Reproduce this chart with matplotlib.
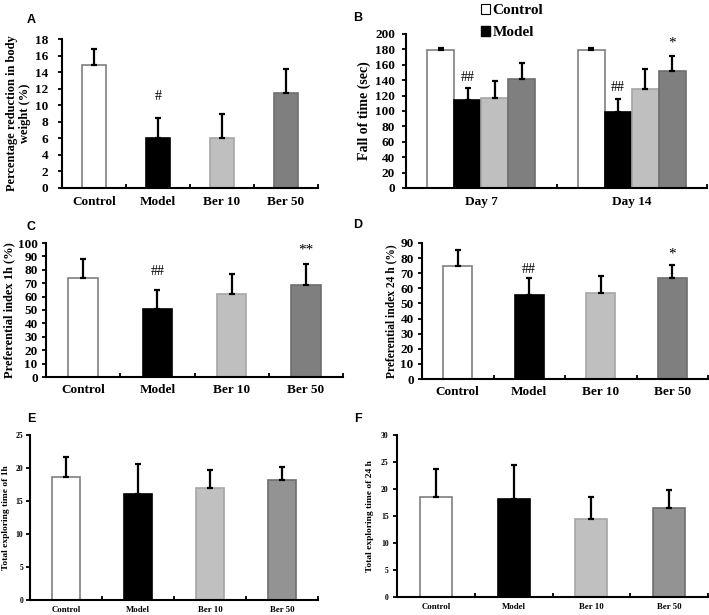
import numpy as np
import matplotlib
matplotlib.use("Agg")
import matplotlib.pyplot as plt
from matplotlib.patches import Patch

plt.rcParams['font.family'] = ['Liberation Serif', 'DejaVu Serif']
plt.rcParams['font.weight'] = 'bold'

groups = ["Control", "Model", "Ber 10", "Ber 50"]
days = ["Day 7", "Day 14"]

# A: percentage reduction in body weight
weight_mean = [14.85, 6.05, 6.05, 11.45]
weight_err = [1.95, 2.4, 2.9, 2.95]

# B: fall of time, rows = groups, cols = days
fall_mean = [[179.5, 178.7], [114.5, 99.0], [117.0, 128.5], [142.0, 152.0]]
fall_err = [[2.0, 2.5], [15.5, 16.0], [22.5, 26.0], [20.5, 19.5]]

# C / D: preferential index
pref1_mean = [74.0, 50.5, 61.6, 69.0]
pref1_err = [14.4, 14.4, 15.6, 15.7]
pref24_mean = [74.8, 55.5, 57.2, 67.1]
pref24_err = [10.4, 11.2, 11.2, 8.2]

# E / F: total exploring time
exp1_mean = [18.6, 16.1, 16.9, 18.2]
exp1_err = [3.0, 4.5, 2.8, 1.9]
exp24_mean = [18.6, 18.1, 14.5, 16.4]
exp24_err = [5.1, 6.3, 4.1, 3.35]

face = ["white", "black", "#bfbfbf", "#7f7f7f"]
edge = ["#7f7f7f", "black", "#a6a6a6", "#6e6e6e"]
face_ef = ["white", "black", "#c0c0c0", "#939393"]

W, H = 709, 615
fig = plt.figure(figsize=(W / 100, H / 100), dpi=100)


def box(l, r, t, b):
    return [l / W, 1 - b / H, (r - l) / W, (b - t) / H]


def style_axes(ax, ncat, ymax, ystep, fs_tick, fs_x, pad_x, pad_y):
    ax.set_xlim(0, ncat)
    ax.set_ylim(0, ymax)
    ax.set_yticks(np.arange(0, ymax + 0.001, ystep))
    for s in ["top", "right"]:
        ax.spines[s].set_visible(False)
    for s in ["left", "bottom"]:
        ax.spines[s].set_linewidth(1.5)
    ax.tick_params(axis='y', length=3, width=1.3, labelsize=fs_tick, pad=pad_y)
    ax.set_xticks(np.arange(ncat) + 0.5)
    ax.set_xticks(np.arange(1, ncat + 1), minor=True)
    ax.tick_params(axis='x', which='major', length=0, labelsize=fs_x, pad=pad_x)
    ax.tick_params(axis='x', which='minor', length=3, width=1.3, direction='in')
    for t in ax.get_yticklabels() + ax.get_xticklabels():
        t.set_fontweight('bold')


def simple_bars(ax, means, errs, faces, width=0.4):
    x = np.arange(len(means)) + 0.5
    ax.bar(x, means, width=width, color=faces, edgecolor=edge, linewidth=1.2, zorder=2)
    ax.errorbar(x, means, yerr=[np.zeros(len(errs)), errs], fmt='none',
                ecolor='black', elinewidth=1.6, capsize=2, capthick=1.6, zorder=3)
    ax.set_xticklabels(groups)


def mark(ax, x, y, s, fs=10):
    ax.text(x, y, s, ha='center', va='center', fontsize=fs, fontweight='normal')


# ---- A ----
axA = fig.add_axes(box(62, 318, 39, 188))
simple_bars(axA, weight_mean, weight_err, face, width=0.39)
style_axes(axA, 4, 18, 2, 9.5, 9.5, 6, 7)
axA.set_ylabel("Percentage reduction in body\nweight (%)", fontsize=9, fontweight='bold',
               labelpad=3, linespacing=1.05)
mark(axA, 1.5, 11.0, "#")

# ---- B ----
axB = fig.add_axes(box(406, 707, 34, 188))
bw = 0.18
for i, g in enumerate(groups):
    x = np.arange(2) + 0.5 + (i - 1.5) * bw
    m = [fall_mean[i][0], fall_mean[i][1]]
    e = [fall_err[i][0], fall_err[i][1]]
    axB.bar(x, m, width=bw, color=face[i], edgecolor=edge[i], linewidth=1.2, zorder=2, label=g)
    axB.errorbar(x, m, yerr=[[0, 0], e], fmt='none', ecolor='black', elinewidth=1.6,
                 capsize=2, capthick=1.6, zorder=3)
style_axes(axB, 2, 200, 20, 9.5, 9.5, 6, 5)
axB.set_xticklabels(days)
axB.set_ylabel("Fall of time (sec)", fontsize=10, fontweight='bold', labelpad=3)
mark(axB, 0.5 - 0.5 * bw, 144, "##")
mark(axB, 1.5 - 0.5 * bw, 131, "##")
mark(axB, 1.5 + 1.5 * bw, 188, "*", 11)
handles = [Patch(facecolor='white', edgecolor='black', linewidth=0.8, label="Control"),
           Patch(facecolor='black', edgecolor='black', label="Model")]
fig.legend(handles=handles, loc='upper left', bbox_to_anchor=(472 / W, 1 + 5 / H), frameon=False,
           prop={'family': 'Liberation Serif', 'weight': 'bold', 'size': 11},
           handlelength=0.6, handleheight=0.6, handletextpad=0.15, labelspacing=0.55,
           borderpad=0.1)

# ---- C ----
axC = fig.add_axes(box(46, 343, 243, 377))
simple_bars(axC, pref1_mean, pref1_err, face)
style_axes(axC, 4, 100, 10, 9.5, 9.5, 5, 3)
axC.set_ylabel("Preferential index 1h (%)", fontsize=9, fontweight='bold', labelpad=2)
mark(axC, 1.5, 79, "##")
mark(axC, 3.5, 94.5, "**", 11)

# ---- D ----
axD = fig.add_axes(box(422, 708, 243, 379))
simple_bars(axD, pref24_mean, pref24_err, face)
style_axes(axD, 4, 90, 10, 9.5, 9.5, 5, 3)
axD.set_ylabel("Preferential index 24 h (%)", fontsize=8.3, fontweight='bold', labelpad=2)
mark(axD, 1.5, 72.5, "##")
mark(axD, 3.5, 83, "*", 11)

# ---- E ----
axE = fig.add_axes(box(30, 318, 435, 600))
simple_bars(axE, exp1_mean, exp1_err, face_ef)
style_axes(axE, 4, 25, 5, 5.5, 6.3, 4, 2)
axE.set_ylabel("Total exploring time of 1h", fontsize=6.8, fontweight='bold', labelpad=4)

# ---- F ----
axF = fig.add_axes(box(397, 708, 435, 597))
simple_bars(axF, exp24_mean, exp24_err, face_ef, width=0.41)
style_axes(axF, 4, 30, 5, 5.5, 6.3, 4, 3)
axF.set_ylabel("Total exploring time of 24 h", fontsize=6.8, fontweight='bold', labelpad=5)

# panel letters
for lab, (px, py) in zip("ABCDEF", [(31, 20), (358, 18), (31, 227), (358, 225), (31, 419), (358, 419)]):
    fig.text(px / W, 1 - py / H, lab, ha='center', va='center', fontsize=9,
             fontweight='bold', family='Liberation Sans')

fig.savefig("out.png", dpi=100)
